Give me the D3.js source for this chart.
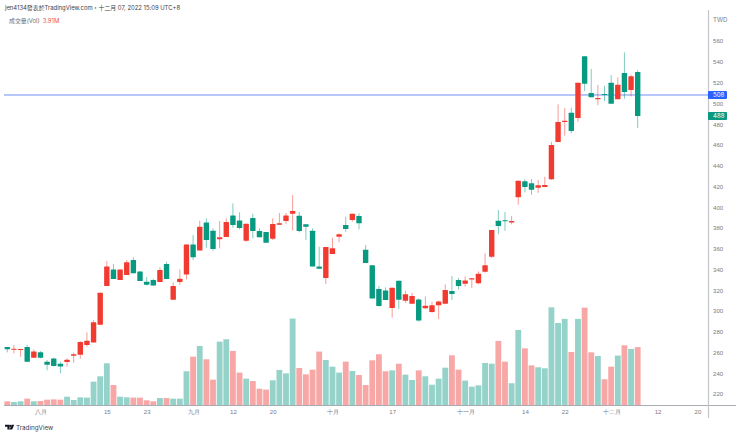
<!DOCTYPE html>
<html>
<head>
<meta charset="utf-8">
<script src="https://cdn.jsdelivr.net/npm/d3@7"></script>
<style>
  html, body { margin: 0; padding: 0; background: #fff; }
  svg { display: block; font-family: Inter, "Noto Sans CJK TC", sans-serif; }
</style>
</head>
<body>
<div id="chart"></div>
<script>
// daily bars, first one is late July 2022
const opens = [265.2,262.7,262.7,265.2,254.9,260.1,251.1,254.3,249.2,250.8,256.9,257.8,267.2,269.7,286.7,324,340,329.8,334.6,349,338.1,328.2,329.8,327.8,345.2,310.8,327.8,335.2,364.1,358.3,385.3,377.3,369,371.2,392,387.2,367.7,389.5,377,376,369.6,383.1,386.6,393.7,391.7,383.4,377.3,342.9,331.7,354.8,371.5,382.8,387.6,391.4,359,343.9,321.1,319.8,302.8,329.1,309.9,307,311.1,302.5,298.9,305.4,307,319.2,329.8,326.2,330.4,326.6,337.8,352.2,386.9,387.3,385.3,409.4,424.8,422.9,418.7,419.3,426.8,462.7,482,490.9,485.8,545.3,509.9,503.8,508.9,519.8,503.8,529.2,512.8,530.1];
const highs = [265.2,267.2,263.3,267.2,263,261.4,252.7,254.9,251.1,254.3,259.8,271,279.4,291.2,317.6,348.1,345.2,340,349,351.6,338.1,332.7,331.1,342,347.4,327.5,340,364.1,373.1,386.9,389.2,379.5,386.6,389.2,403.6,395,384,393.7,379.5,376,389.2,394.3,394.3,411.6,395.3,383.4,379.5,361.9,361.6,370.6,374.7,390.8,393.7,394,363.5,343.9,324,322.7,322.4,329.1,319.5,317.6,312.1,314,308.9,309.9,325.6,333.6,331.7,333.3,331.4,338.1,355.5,377.9,397.2,395.3,391.4,425.4,427,427,426.1,429.3,463,499,495.4,495.7,519.8,545.3,533,517.6,516.9,527.2,525,549.1,527.5,531.8];
const lows = [260.1,259.1,255.9,250.8,254.9,254.3,242.8,246.6,239.9,246.3,250.1,254,265.6,269.7,286.7,324,330.7,329.8,334.6,336.2,328.8,324.6,324,327.8,330.7,310.8,325,330.4,349,358.3,360.9,358,360.3,371.2,380.2,378.6,366.4,369.9,370.9,365.7,368.3,383.1,383.7,377.3,375.7,368.3,342.9,340.7,325.9,354.8,366.1,376.3,386,378.6,346.1,312.1,304.1,310.5,293.5,301.8,307.9,307,289.6,301.8,298.3,292.2,307,310.5,320.8,323.4,322.1,325.6,336.8,350.9,373.8,377.2,383.4,402.3,414.2,411.9,413.8,419.3,426.1,462.7,468.8,471.1,482.3,511.8,505.8,498.1,502.2,499.6,503.8,504.4,506.7,476.2];
const closes = [263,263.6,263.3,251.1,261,254.9,248.2,246.9,246.6,253,258.2,270,271.3,289,317.6,342.9,330.7,340,346.8,336.2,328.8,325.3,324.6,339.4,330.7,324,331.1,364.1,351.6,381.1,368.3,359.6,370.9,385.6,382.8,379.9,384,377,370.9,365.7,383.7,384.4,392,396.2,377,381.1,342.9,340.7,361.6,360.3,373.8,378.9,393.7,384.4,346.1,312.1,304.7,310.5,322.4,310.8,316,314.4,290.9,305,305.4,309.2,320.1,316.3,324,329.4,331.4,335.9,343.9,377.9,381.8,386.3,386.6,425.4,419.3,416.7,421,421.3,459.8,482,483.2,473.3,519.8,518.9,505.8,505.1,508,499.6,517.9,510.9,526,487.7];
// volume in millions
const volumes = [0.25,0.2,0.25,0.43,0.25,0.27,0.36,0.38,0.36,0.56,0.34,0.52,0.5,1.58,1.94,2.82,1.35,0.56,0.52,0.5,0.5,0.32,0.25,0.47,0.47,0.43,0.43,2.28,3.27,3.99,3.09,1.71,4.28,4.44,3.65,2.19,1.78,1.62,1.1,1.04,1.67,2.37,2.14,5.84,2.5,2.07,2.39,3.61,3.04,2.59,2.19,2.93,2.3,2.03,1.35,3.02,3.43,2.28,2.34,2.79,2.05,1.69,2.34,1.94,1.37,1.78,2.52,3.36,2.39,1.65,1.24,1.33,2.84,2.79,4.33,2.93,1.47,5.07,3.83,2.68,2.55,2.48,6.6,5.54,5.82,3.58,5.82,6.58,3.56,3.31,1.74,2.59,3.34,4.03,3.79,3.91];

const priceTicks = [220,240,260,280,300,320,340,360,380,400,420,440,460,480,500,520,540,560];
const dateTickIndex = [5,15,21,28,34,40,49,58,69,78,84,91,98,104];
const dateTickLabels = ['八月','15','23','九月','12','20','十月','17','十一月','14','22','十二月','12','20'];
const lastPrice = 487.7;
const markPrice = 508;

const red = '#f23b30', green = '#089981';
const volRed = '#f7a8a6', volGreen = '#95d3ca';
const grey = '#787b86';
const axisX = 708, axisY = 405;
const smallFont = '6.1px';

const width = 740, height = 436;
const svg = d3.select('#chart').append('svg')
  .attr('width', width)
  .attr('height', height);

const x = d3.scaleLinear().domain([0, 95]).range([7.3, 637.7]);
const y = d3.scaleLinear().domain([220, 560]).range([394, 41]);
const yVol = d3.scaleLinear().domain([0, 7]).range([axisY, axisY - 7 * 14.8]);

const stepX = x(1) - x(0);
const bars = closes.map((c, i) => ({i, o: opens[i], h: highs[i], l: lows[i], c, v: volumes[i], up: c >= opens[i]}));

// volume first so it stays under everything. colours are the flip of the candles, same as the source
svg.append('g').selectAll('rect')
  .data(bars)
  .enter().append('rect')
  .attr('x', d => x(d.i) - (stepX - 0.8) / 2)
  .attr('width', stepX - 0.8)
  .attr('y', d => yVol(d.v))
  .attr('height', d => axisY - yVol(d.v))
  .attr('fill', d => d.up ? volGreen : volRed);

// axis lines
svg.append('line').attr('x1', 4).attr('x2', 736).attr('y1', axisY + 0.5).attr('y2', axisY + 0.5)
  .attr('stroke', '#a9acb3').attr('stroke-width', 1);
svg.append('line').attr('x1', axisX + 0.5).attr('x2', axisX + 0.5).attr('y1', 10).attr('y2', 418)
  .attr('stroke', '#c4c6cb').attr('stroke-width', 1.2);

// mark line
svg.append('line').attr('x1', 4).attr('x2', axisX).attr('y1', y(markPrice)).attr('y2', y(markPrice))
  .attr('stroke', '#6f8ff5').attr('stroke-width', 1);

// wicks
svg.append('g').selectAll('line')
  .data(bars)
  .enter().append('line')
  .attr('x1', d => x(d.i)).attr('x2', d => x(d.i))
  .attr('y1', d => y(d.h)).attr('y2', d => y(d.l))
  .attr('stroke', d => d.up ? red : green)
  .attr('stroke-opacity', 0.5)
  .attr('stroke-width', 1);

// bodies
svg.append('g').selectAll('rect')
  .data(bars)
  .enter().append('rect')
  .attr('x', d => x(d.i) - 2.7)
  .attr('width', 5.4)
  .attr('y', d => y(Math.max(d.o, d.c)))
  .attr('height', d => Math.max(1, Math.abs(y(d.o) - y(d.c))))
  .attr('rx', 0.5)
  .attr('fill', d => d.up ? red : green);

// price axis
const yAxis = svg.append('g')
  .attr('transform', `translate(${axisX},0)`)
  .call(d3.axisRight(y).tickValues(priceTicks).tickSize(0).tickPadding(5));
yAxis.select('.domain').remove();
yAxis.selectAll('text').attr('fill', grey).style('font-size', smallFont);

// date axis
const xAxis = svg.append('g')
  .attr('transform', `translate(0,${axisY})`)
  .call(d3.axisBottom(x).tickValues(dateTickIndex)
    .tickFormat((d, i) => dateTickLabels[i]).tickSize(0).tickPadding(5));
xAxis.select('.domain').remove();
xAxis.selectAll('text').attr('fill', grey).style('font-size', smallFont);

// last price tags
function tag(price, label, fill) {
  svg.append('rect').attr('x', axisX).attr('width', 19).attr('height', 8)
    .attr('y', y(price) - 4).attr('rx', 1).attr('fill', fill);
  svg.append('text').attr('x', axisX + 5).attr('y', y(price)).attr('dy', '0.35em')
    .attr('fill', '#fff').style('font-size', smallFont).text(label);
}
tag(markPrice, markPrice, '#2962ff');
tag(lastPrice, Math.round(lastPrice), '#089981');

svg.append('text').attr('x', 713).attr('y', 21.5).attr('fill', grey)
  .style('font-size', smallFont).text('TWD');

// header
svg.append('text').attr('x', 5).attr('y', 9.8).attr('fill', '#3b3e46')
  .style('font-size', '5.9px').text('jen4134發表於TradingView.com，十二月 07, 2022 15:09 UTC+8');
const legend = svg.append('text').attr('x', 9).attr('y', 23).style('font-size', '5.9px');
legend.append('tspan').attr('fill', '#6a6d78').text('成交量(Vol)');
legend.append('tspan').attr('dx', 3).attr('fill', '#ef5350').text('3.91M');

// logo + footer
svg.append('path').attr('transform', 'translate(5,424.8)')
  .attr('d', 'M0 0h4.6v4.6h-2.2v-2.6h-2.4z M6.6 0h2.6l-2 4.6h-2.6z M5.4 0a1 1 0 1 0 0.01 0z')
  .attr('fill', '#131722');
svg.append('text').attr('x', 16).attr('y', 429.5).attr('fill', '#3b3e46')
  .style('font-size', '6.3px').text('TradingView');
</script>
</body>
</html>
